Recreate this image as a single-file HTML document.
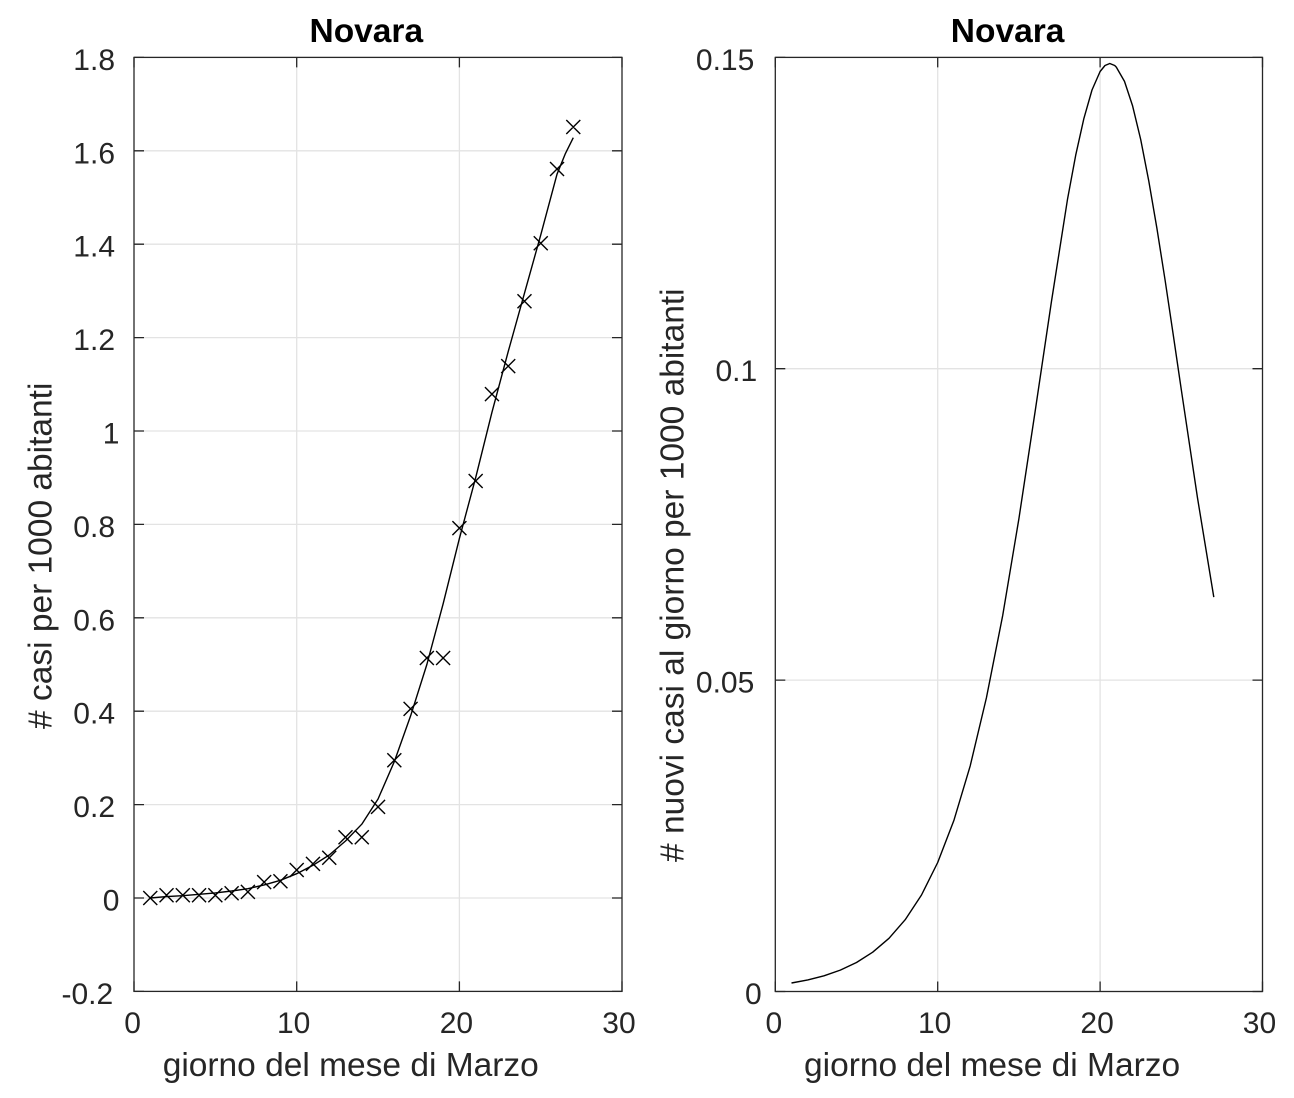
<!DOCTYPE html>
<html><head><meta charset="utf-8"><style>
html,body{margin:0;padding:0;background:#fff;}
svg{display:block;}
text{font-family:"Liberation Sans",Arial,Helvetica,sans-serif;fill:#262626;}
</style></head><body>
<svg width="1294" height="1098" viewBox="0 0 1294 1098" xmlns="http://www.w3.org/2000/svg">
<rect x="0" y="0" width="1294" height="1098" fill="#fff"/>

<!-- LEFT AXES -->
<g stroke="#e3e3e3" stroke-width="1.3" fill="none">
<path d="M296.7 57.4V991.4M459.4 57.4V991.4"/>
<path d="M134 150.8H622M134 244.2H622M134 337.6H622M134 431H622M134 524.4H622M134 617.8H622M134 711.2H622M134 804.6H622M134 898H622"/>
</g>
<g stroke="#262626" stroke-width="1.3" fill="none">
<rect x="134" y="57.4" width="488" height="934"/>
<path d="M296.7 991.4V981.4M459.4 991.4V981.4M134 991.4V981.4M622 991.4V981.4M296.7 57.4V67.4M459.4 57.4V67.4M134 57.4V67.4M622 57.4V67.4"/>
<path d="M134 57.4H144M134 150.8H144M134 244.2H144M134 337.6H144M134 431H144M134 524.4H144M134 617.8H144M134 711.2H144M134 804.6H144M134 898H144M134 991.4H144"/>
<path d="M622 57.4H612M622 150.8H612M622 244.2H612M622 337.6H612M622 431H612M622 524.4H612M622 617.8H612M622 711.2H612M622 804.6H612M622 898H612M622 991.4H612"/>
</g>
<g font-size="30">
<text x="73.3" y="69.9">1.8</text>
<text x="73.3" y="163.3">1.6</text>
<text x="73.3" y="256.7">1.4</text>
<text x="73.3" y="350.1">1.2</text>
<text x="102.8" y="443.5">1</text>
<text x="73.3" y="536.9">0.8</text>
<text x="73.3" y="630.3">0.6</text>
<text x="73.3" y="723.7">0.4</text>
<text x="73.3" y="817.1">0.2</text>
<text x="102.8" y="910.5">0</text>
<text x="61.5" y="1003.9">-0.2</text>
<text x="124.2" y="1033">0</text>
<text x="277.0" y="1033">10</text>
<text x="439.7" y="1033">20</text>
<text x="602.3" y="1033">30</text>
</g>
<text x="309.5" y="42" font-size="33.5" font-weight="bold" style="fill:#000">Novara</text>
<text x="162.7" y="1076" font-size="33.5">giorno del mese di Marzo</text>
<text transform="translate(51.7 729) rotate(-90)" font-size="33.5">  # casi per 1000 abitanti</text>

<polyline fill="none" stroke="#000" stroke-width="1.4" stroke-linejoin="round" points="150.27,898.0 166.54,896.6 182.81,895.7 199.08,894.3 215.35,892.9 231.62,891.0 247.89,888.7 264.16,884.9 280.43,880.3 296.70,873.7 312.97,865.3 329.24,855.0 345.51,841.0 361.78,824.2 378.05,799.0 394.32,761.6 410.59,715.9 426.86,664.5 443.13,603.8 459.40,538.4 475.67,477.7 491.94,412.3 508.21,351.6 524.48,293.2 540.75,234.9 557.02,174.2 565.16,154.1 573.29,137.7"/>
<path fill="none" stroke="#000" stroke-width="1.4" d="M143.27 891L157.27 905M143.27 905L157.27 891M159.54 888.2L173.54 902.2M159.54 902.2L173.54 888.2M175.81 888.2L189.81 902.2M175.81 902.2L189.81 888.2M192.08 888.2L206.08 902.2M192.08 902.2L206.08 888.2M208.35 888.2L222.35 902.2M208.35 902.2L222.35 888.2M224.62 886.3L238.62 900.3M224.62 900.3L238.62 886.3M240.89 884.9L254.89 898.9M240.89 898.9L254.89 884.9M257.16 875.1L271.16 889.1M257.16 889.1L271.16 875.1M273.43 874.2L287.43 888.2M273.43 888.2L287.43 874.2M289.7 863L303.7 877M289.7 877L303.7 863M305.97 856.9L319.97 870.9M305.97 870.9L319.97 856.9M322.24 850.8L336.24 864.8M322.24 864.8L336.24 850.8M338.51 830.3L352.51 844.3M338.51 844.3L352.51 830.3M354.78 830.3L368.78 844.3M354.78 844.3L368.78 830.3M371.05 799.9L385.05 813.9M371.05 813.9L385.05 799.9M387.32 753.2L401.32 767.2M387.32 767.2L401.32 753.2M403.59 701.9L417.59 715.9M403.59 715.9L417.59 701.9M419.86 651L433.86 665M419.86 665L433.86 651M436.13 651L450.13 665M436.13 665L450.13 651M452.4 521.1L466.4 535.1M452.4 535.1L466.4 521.1M468.67 474L482.67 488M468.67 488L482.67 474M484.94 387.1L498.94 401.1M484.94 401.1L498.94 387.1M501.21 359.1L515.21 373.1M501.21 373.1L515.21 359.1M517.48 294.2L531.48 308.2M517.48 308.2L531.48 294.2M533.75 236.3L547.75 250.3M533.75 250.3L547.75 236.3M550.02 162L564.02 176M550.02 176L564.02 162M566.29 120L580.29 134M566.29 134L580.29 120"/>

<!-- RIGHT AXES -->
<g stroke="#e3e3e3" stroke-width="1.3" fill="none">
<path d="M937.7 57.4V991.5M1100.1 57.4V991.5"/>
<path d="M775.3 368.7H1262.5M775.3 680.1H1262.5"/>
</g>
<g stroke="#262626" stroke-width="1.3" fill="none">
<rect x="775.3" y="57.4" width="487.2" height="934.1"/>
<path d="M775.3 991.5V981.5M937.7 991.5V981.5M1100.1 991.5V981.5M1262.5 991.5V981.5M775.3 57.4V67.4M937.7 57.4V67.4M1100.1 57.4V67.4M1262.5 57.4V67.4"/>
<path d="M775.3 57.4H785.3M775.3 368.7H785.3M775.3 680.1H785.3M775.3 991.5H785.3M1262.5 57.4H1252.5M1262.5 368.7H1252.5M1262.5 680.1H1252.5M1262.5 991.5H1252.5"/>
</g>
<g font-size="30">
<text x="695.9" y="69.9">0.15</text>
<text x="715.5" y="381.2">0.1</text>
<text x="695.9" y="692.6">0.05</text>
<text x="745.0" y="1004">0</text>
<text x="765.5" y="1033">0</text>
<text x="918.0" y="1033">10</text>
<text x="1080.4" y="1033">20</text>
<text x="1242.8" y="1033">30</text>
</g>
<text x="950.8" y="42" font-size="33.5" font-weight="bold" style="fill:#000">Novara</text>
<text x="804" y="1076" font-size="33.5">giorno del mese di Marzo</text>
<text transform="translate(683.3 862) rotate(-90)" font-size="33.5"># nuovi casi al giorno per 1000 abitanti</text>

<polyline fill="none" stroke="#000" stroke-width="1.4" stroke-linejoin="round" points="791.5,983.0 807.8,979.9 824.0,975.8 840.3,970.1 856.5,962.5 872.7,952.2 889.0,938.3 905.2,919.7 921.5,895.0 937.7,862.5 954.0,820.1 970.2,765.9 986.4,697.9 1002.7,615.5 1018.9,518.7 1035.1,411.6 1051.4,301.9 1067.6,198.7 1075.7,155.2 1083.9,118.4 1092.0,90.0 1100.1,71.5 1105.0,65.5 1109.8,63.5 1114.7,65.5 1116.3,67.1 1124.5,81.4 1132.6,105.9 1140.7,139.5 1148.8,181.1 1156.9,228.3 1165.1,280.2 1173.2,334.5 1181.3,389.7 1197.5,497.9 1213.8,597.1"/>
</svg>
</body></html>
